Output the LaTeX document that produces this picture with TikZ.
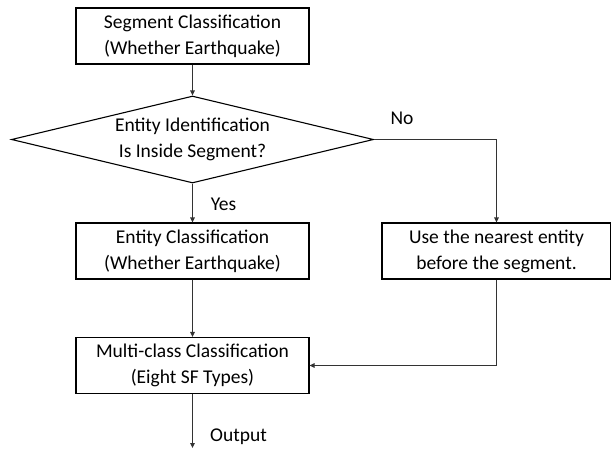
\documentclass[tikz,border=0pt]{standalone}
\usepackage{fontspec}
\setmainfont{Carlito}
\usetikzlibrary{shapes.geometric, positioning, arrows.meta}

\begin{document}
\begin{tikzpicture}[-,auto,node distance=104pt,line width=1.1pt,
                    box node/.style={rectangle,draw,minimum width=233pt,minimum height=56pt,
                      inner sep=2pt,align=center,font=\fontsize{19.5}{26}\selectfont,
                      execute at begin node={\rule{0pt}{20pt}}},
                    test node/.style={diamond,draw,aspect=4.16,minimum width=362pt,minimum height=87pt,
                      inner sep=0pt,align=center,font=\fontsize{19.5}{26}\selectfont},
                    flow/.style={draw=black!80,-{Triangle[length=5pt,width=4.5pt]}},
                    lbl/.style={font=\fontsize{19.5}{22}\selectfont}]

  \useasboundingbox (0,0) rectangle (611pt,-448pt);

  \node[box node] (seg) at (192.5pt,-36pt) {Segment Classification\\(Whether Earthquake)};
  \node[test node] (inside) [below of=seg,node distance=103.5pt] {Entity Identification\\Is Inside Segment?};
  \node[box node] (entity) [below of=inside,node distance=111.5pt] {Entity Classification\\(Whether Earthquake)};
  \node[box node,minimum width=229pt] (nearest) [right of=entity,node distance=304pt] {Use the nearest entity\\before the segment.};
  \node[box node] (multi) [below of=entity,node distance=114.5pt] {Multi-class Classification\\(Eight SF Types)};
  \coordinate [below=54pt of multi.south] (out);

  \path
    (seg) edge[flow] (inside)
    (inside) edge[flow] (entity)
    (entity) edge[flow] (multi)
    (multi.south) edge[flow] (out);
  \draw[flow] (inside.east) -| (nearest.north);
  \draw[flow] (nearest.south) |- (multi.east);

  \node [lbl,xshift=28pt,yshift=21.5pt] (no) at (inside.east) {No};
  \node [lbl,xshift=31pt,yshift=-21pt] (yes) at (inside.south) {Yes};
  \node [lbl,xshift=46pt,yshift=-43pt] (output) at (multi.south) {Output};
\end{tikzpicture}
\end{document}
